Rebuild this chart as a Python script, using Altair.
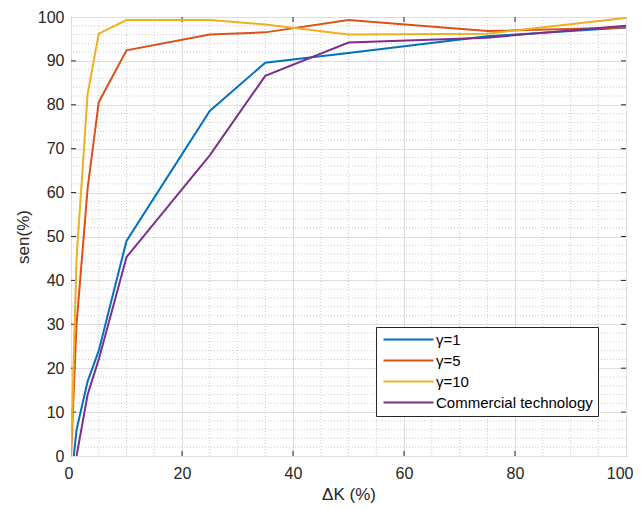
import altair as alt
import pandas as pd

# ---- data ----
SERIES = ["γ=1", "γ=5", "γ=10", "Commercial technology"]
COLORS = ["#0072BD", "#D95319", "#EDB120", "#7E2F8E"]

g1_x = [0.5, 1, 3, 5, 10, 25, 35, 50, 75, 100]
g1_y = [0, 6, 17, 24, 49, 78.6, 89.6, 91.8, 95.6, 97.6]

g5_x = [0, 1, 3, 5, 10, 25, 35, 50, 75, 100]
g5_y = [0, 30, 61, 80.6, 92.4, 96.0, 96.5, 99.3, 96.8, 97.6]

g10_x = [0, 1, 3, 5, 10, 25, 35, 50, 75, 100]
g10_y = [0, 45, 82.5, 96.2, 99.3, 99.3, 98.3, 96.0, 96.2, 99.8]

com_x = [1, 3, 5, 10, 25, 35, 50, 75, 100]
com_y = [0, 14, 22, 45.3, 68.5, 86.6, 94.2, 95.3, 98.0]

x_major = [0, 20, 40, 60, 80, 100]
y_major = [0, 10, 20, 30, 40, 50, 60, 70, 80, 90, 100]
x_minor = [v for v in range(5, 100, 5) if v % 20 != 0]
y_minor = [v for v in range(2, 100, 2) if v % 10 != 0]

rows = []
for i, (name, xs, ys) in enumerate(zip(SERIES, [g1_x, g5_x, g10_x, com_x], [g1_y, g5_y, g10_y, com_y])):
    for j, (xv, yv) in enumerate(zip(xs, ys)):
        rows.append({"series": name, "k": i, "idx": j, "dk": xv, "sen": yv})
df = pd.DataFrame(rows)

W, H = 555, 439
FONT = "Liberation Sans"
FRAME = "#262626"
xsc = alt.Scale(domain=[0, 100], nice=False, zero=False)
ysc = alt.Scale(domain=[0, 100], nice=False, zero=False)

x_axis = alt.Axis(
    values=x_major, grid=True, gridColor="#dedede", gridWidth=1,
    domain=False, ticks=False, labelFontSize=16, labelFont=FONT,
    labelColor=FRAME, labelPadding=9, title="ΔK (%)", titleFont=FONT,
    titleFontSize=17, titleFontWeight="normal", titleColor=FRAME, titlePadding=5,
    labelFlush=True, labelFlushOffset=7)
y_axis = alt.Axis(
    values=y_major, grid=True, gridColor="#dedede", gridWidth=1,
    domain=False, ticks=False, labelFontSize=16, labelFont=FONT,
    labelColor=FRAME, labelPadding=7, title="sen(%)", titleFont=FONT,
    titleFontSize=17, titleFontWeight="normal", titleColor=FRAME, titlePadding=5,
    labelFlush=False)

minor_x = alt.Chart(pd.DataFrame({"v": x_minor})).mark_rule(
    color="#cccccc", strokeDash=[1, 2], strokeWidth=1
).encode(x=alt.X("v:Q", scale=xsc, axis=x_axis, title="ΔK (%)"))

minor_y = alt.Chart(pd.DataFrame({"v": y_minor})).mark_rule(
    color="#cccccc", strokeDash=[1, 2], strokeWidth=1
).encode(y=alt.Y("v:Q", scale=ysc, axis=y_axis, title="sen(%)"))

lines = alt.Chart(df).mark_line(strokeWidth=2, clip=True, strokeJoin="miter").encode(
    x=alt.X("dk:Q", scale=xsc, axis=x_axis, title="ΔK (%)"),
    y=alt.Y("sen:Q", scale=ysc, axis=y_axis, title="sen(%)"),
    color=alt.Color("series:N", sort=SERIES,
                    scale=alt.Scale(domain=SERIES, range=COLORS),
                    legend=alt.Legend(
                        title=None, orient="none", legendX=305, legendY=310,
                        symbolType="M-1,0H9", symbolSize=100, symbolStrokeWidth=2,
                        labelFontSize=15, labelFont=FONT, labelColor="#000000",
                        labelOffset=40, labelLimit=400, rowPadding=5,
                        fillColor="white", strokeColor=FRAME, padding=5)),
    detail="k:O",
    order="idx:Q",
)

tb = pd.DataFrame({"v": x_major[1:-1]})
tl = pd.DataFrame({"v": y_major[1:-1]})
tick_b = alt.Chart(tb).mark_rule(color=FRAME).encode(
    x=alt.X("v:Q", scale=xsc, axis=x_axis, title="ΔK (%)"), y=alt.value(H), y2=alt.value(H - 5))
tick_t = alt.Chart(tb).mark_rule(color=FRAME).encode(
    x=alt.X("v:Q", scale=xsc, axis=x_axis, title="ΔK (%)"), y=alt.value(0), y2=alt.value(5))
tick_l = alt.Chart(tl).mark_rule(color=FRAME).encode(
    y=alt.Y("v:Q", scale=ysc, axis=y_axis, title="sen(%)"), x=alt.value(0), x2=alt.value(5))
tick_r = alt.Chart(tl).mark_rule(color=FRAME).encode(
    y=alt.Y("v:Q", scale=ysc, axis=y_axis, title="sen(%)"), x=alt.value(W), x2=alt.value(W - 5))

chart = alt.layer(minor_x, minor_y, tick_b, tick_t, tick_l, tick_r, lines).properties(
    width=W, height=H,
    autosize=alt.AutoSizeParams(type="none"),
    padding={"left": 63, "top": 9, "right": 7, "bottom": 52},
    background="white",
).configure_view(stroke=FRAME, strokeWidth=1)

chart.save("out.html", embed_options={"renderer": "svg", "actions": False})
